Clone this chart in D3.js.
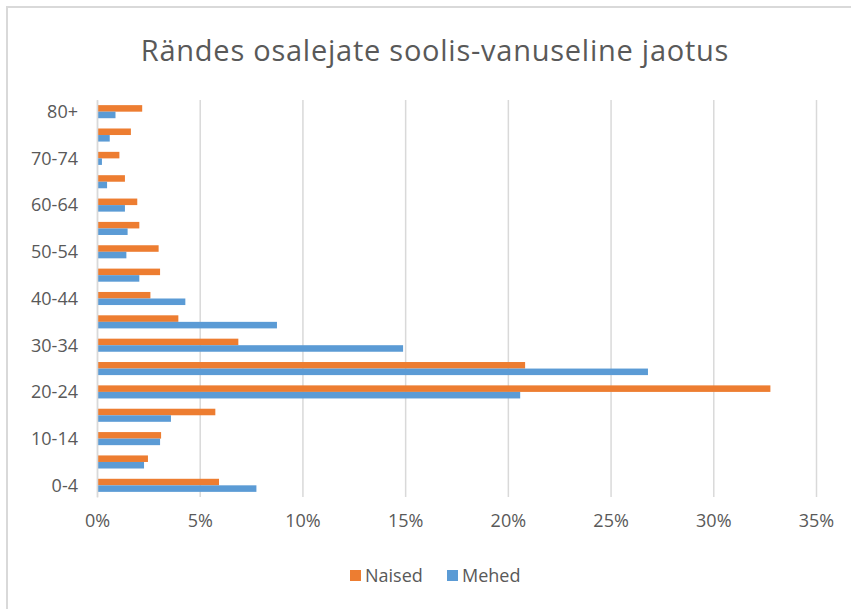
<!DOCTYPE html>
<html>
<head>
<meta charset="utf-8">
<script src="https://cdn.jsdelivr.net/npm/d3@7"></script>
<style>
  body { margin: 0; background: #fff; }
  text { font-family: "Open Sans", "DejaVu Sans", sans-serif; fill: #595959; }
</style>
</head>
<body>
<script>
// age groups, bottom to top
var ageGroups = ["0-4", "5-9", "10-14", "15-19", "20-24", "25-29", "30-34", "35-39",
                 "40-44", "45-49", "50-54", "55-59", "60-64", "65-69", "70-74", "75-79", "80+"];
var seriesNames = ["Naised", "Mehed"];
// percent of participants
var naised = [5.94, 2.48, 3.12, 5.76, 32.78, 20.84, 6.88, 3.96, 2.6, 3.07, 3.0, 2.06, 1.96, 1.36, 1.09, 1.65, 2.2];
var mehed  = [7.76, 2.29, 3.07, 3.6, 20.6, 26.82, 14.9, 8.76, 4.3, 2.06, 1.43, 1.49, 1.36, 0.49, 0.24, 0.62, 0.9];
var xTicks = [0, 5, 10, 15, 20, 25, 30, 35];
var colors = {Naised: "#ED7D31", Mehed: "#5B9BD5"};

var width = 851, height = 609;
var margin = {top: 100, right: 35, bottom: 112, left: 97};
var plotW = 816 - margin.left, plotH = 497 - margin.top;

var svg = d3.select("body").append("svg")
    .attr('width', width)
    .attr('height', height);

// chart border
svg.append("rect")
    .attr('x', 7).attr('y', 7)
    .attr('width', 860).attr('height', 620)
    .style('fill', "none")
    .style('stroke', "#d9d9d9")
    .style('stroke-width', "2px");

svg.append("text")
    .text("Rändes osalejate soolis-vanuseline jaotus")
    .attr('x', 435)
    .attr('y', 61)
    .attr('text-anchor', "middle")
    .style('font-size', "29px")
    .style('letter-spacing', "0.75px");

var g = svg.append("g")
    .attr('transform', "translate(" + margin.left + "," + margin.top + ")");

var x = d3.scaleLinear().domain([0, 35]).range([0, plotW]);
var y = d3.scaleBand().domain(ageGroups.slice().reverse()).range([0, plotH]).paddingInner(0.44).paddingOuter(0.22);
var ySub = d3.scaleBand().domain(seriesNames).range([0, y.bandwidth()]);

// grid
g.append("g")
    .attr('class', "grid")
    .call(d3.axisBottom(x).tickValues(xTicks).tickSize(plotH).tickFormat(""))
    .call(function(s){ s.select(".domain").remove(); })
    .selectAll("line")
    .style('stroke', "#d9d9d9")
    .style('stroke-width', "1.5px");

var rows = [];
ageGroups.forEach(function(a, i){
    rows.push({age: a, series: "Naised", value: naised[i]});
    rows.push({age: a, series: "Mehed", value: mehed[i]});
});

g.selectAll("rect.bar")
    .data(rows)
    .enter()
    .append("rect")
    .attr('class', "bar")
    .attr('x', x(0))
    .attr('y', function(d){ return y(d.age) + ySub(d.series); })
    .attr('width', function(d){ return x(d.value) - x(0); })
    .attr('height', ySub.bandwidth())
    .style('fill', function(d){ return colors[d.series]; });

// y axis
var yAxis = g.append("g")
    .call(d3.axisLeft(y)
        .tickValues(ageGroups.filter(function(d, i){ return i % 2 === 0; }))
        .tickSize(0)
        .tickPadding(19));
yAxis.select(".domain").style('stroke', "#d9d9d9").style('stroke-width', "1.5px");
yAxis.selectAll("text")
    .attr('dy', "0.35em")
    .style('font-size', "18px")
    .style('font-family', null);
yAxis.selectAll(".tick").attr('transform', function(d){ return "translate(0," + (y(d) + y.bandwidth() / 2) + ")"; });

// x axis labels
var xAxis = g.append("g")
    .attr('transform', "translate(0," + plotH + ")")
    .call(d3.axisBottom(x).tickValues(xTicks).tickSize(0).tickPadding(17)
        .tickFormat(function(d){ return d + "%"; }));
xAxis.select(".domain").remove();
xAxis.selectAll("text")
    .style('font-size', "18px")
    .style('font-family', null);

// legend
var legend = svg.append("g").attr('transform', "translate(350,576)");
var legendX = {Naised: 0, Mehed: 97};
seriesNames.forEach(function(s){
    var lg = legend.append("g").attr('transform', "translate(" + legendX[s] + ",0)");
    lg.append("rect")
        .attr('x', 0).attr('y', -6)
        .attr('width', 11).attr('height', 11)
        .style('fill', colors[s]);
    lg.append("text")
        .text(s)
        .attr('x', 15)
        .attr('y', 0)
        .attr('dy', "0.35em")
        .style('font-size', "18px");
});
</script>
</body>
</html>
